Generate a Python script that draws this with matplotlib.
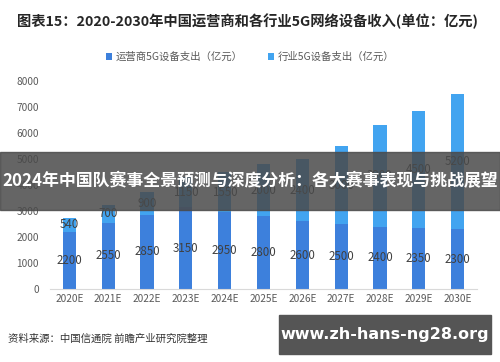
import matplotlib
matplotlib.use('Agg')
from matplotlib import pyplot as plt
from matplotlib.patches import Rectangle
import numpy as np

plt.rcParams['font.family'] = ['Noto Sans CJK SC', 'DejaVu Sans']

years = ['2020E', '2021E', '2022E', '2023E', '2024E', '2025E',
         '2026E', '2027E', '2028E', '2029E', '2030E']
operator = [2200, 2550, 2850, 3150, 2950, 2800, 2600, 2500, 2400, 2350, 2300]
industry = [540, 700, 900, 1150, 1550, 2000, 2400, 3000, 3900, 4500, 5200]
yticks = [0, 1000, 2000, 3000, 4000, 5000, 6000, 7000, 8000]

c_op = '#3d80dc'
c_ind = '#42a4f0'

fig = plt.figure(figsize=(5, 3.62), dpi=100)
ax = fig.add_axes([0.10, 0.2017, 0.854, 0.574])

x = np.arange(len(years))
w = 0.34
ax.bar(x, operator, w, color=c_op, label='运营商5G设备支出（亿元）')
ax.bar(x, industry, w, bottom=operator, color=c_ind, label='行业5G设备支出（亿元）')

for i in range(len(years)):
    ax.text(x[i], operator[i] / 2, str(operator[i]), ha='center', va='center',
            fontsize=8.3, color='#404040')
    ax.text(x[i], operator[i] + industry[i] / 2, str(industry[i]), ha='center',
            va='center', fontsize=8.3, color='#404040')

ax.set_xlim(-0.5, 10.5)
ax.set_ylim(0, 8000)
ax.set_yticks(yticks)
ax.set_xticks(x)
ax.set_xticklabels(years)
ax.tick_params(axis='both', length=0, labelsize=7.3, labelcolor='#595959')
ax.tick_params(axis='y', pad=8)
for s in ['top', 'right', 'left']:
    ax.spines[s].set_visible(False)
ax.spines['bottom'].set_color('#d9d9d9')

fig.legend(loc='center', bbox_to_anchor=(0.5, 0.842), ncol=2, frameon=False,
           fontsize=7.5, handlelength=0.6, handleheight=0.6, handletextpad=0.3,
           columnspacing=2.5, labelcolor='#595959')

fig.text(0.034, 0.94, '图表15：2020-2030年中国运营商和各行业5G网络设备收入(单位：亿元)',
         fontsize=10.3, fontweight='bold', color='#262626', va='center')
fig.text(0.015, 0.063, '资料来源：中国信通院 前瞻产业研究院整理', fontsize=7.5,
         color='#333333', va='center')

# 横幅
fig.patches.append(Rectangle((0, 1 - 210 / 362), 1, 58 / 362, transform=fig.transFigure,
                             color='#4a4a4a', alpha=0.85, zorder=5))
fig.text(0.5, 1 - 181 / 362, '2024年中国队赛事全景预测与深度分析：各大赛事表现与挑战展望',
         fontsize=12.2, fontweight='bold', color='white', ha='center', va='center', zorder=6)

# 网址水印
fig.patches.append(Rectangle((279 / 500, 1 - 354 / 362), 212 / 500, 39 / 362,
                             transform=fig.transFigure, color='#555555', zorder=5))
fig.text(385 / 500, 1 - 334 / 362, 'www.zh-hans-ng28.org', fontsize=11.5,
         fontweight='bold', color='white', ha='center', va='center', zorder=6,
         family=['DejaVu Sans'])

plt.savefig('out.png', dpi=100)
